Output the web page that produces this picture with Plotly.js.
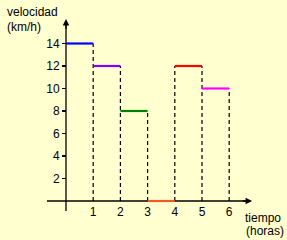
<!DOCTYPE html>
<html>
<head>
<meta charset="utf-8">
<script src="https://cdn.plot.ly/plotly-3.0.1.min.js"></script>
<style>html,body{margin:0;padding:0;background:#FFFFD0;}#chart{width:287px;height:240px;}</style>
</head>
<body>
<div id="chart"></div>
<script>
// Data
var tiempoInicio = [0, 1, 2, 3, 4, 5];
var tiempoFin    = [1, 2, 3, 4, 5, 6];
var velocidad    = [14, 12, 8, 0, 12, 10];
var colores      = ['#0000FF', '#8000FF', '#008000', '#F05A20', '#FF0000', '#FF00FF'];
var yTicks       = [2, 4, 6, 8, 10, 12, 14];
var xTicks       = [1, 2, 3, 4, 5, 6];
var yTitle       = ['velocidad', '(km/h)'];
var xTitle       = ['tiempo', '(horas)'];

var W = 287, H = 240;
var x0px = 66, xUnit = 27.2;
var y0px = 201, yUnit = 11.25;
var xRange = [-x0px / xUnit, (W - x0px) / xUnit];
var yRange = [-(H - y0px) / yUnit, y0px / yUnit];

var traces = [];
// dashed verticals at segment boundaries
tiempoFin.forEach(function (t, i) {
  var h = Math.max(velocidad[i], i + 1 < velocidad.length ? velocidad[i + 1] : 0);
  traces.push({
    x: [t, t], y: [0, h], mode: 'lines', type: 'scatter', hoverinfo: 'skip',
    line: {color: '#000000', width: 1.2, dash: '4px,3px'}, showlegend: false
  });
});
// velocity segments
velocidad.forEach(function (v, i) {
  traces.push({
    x: [tiempoInicio[i], tiempoFin[i]], y: [v, v], mode: 'lines', type: 'scatter',
    line: {color: colores[i], width: 2.2}, showlegend: false, hoverinfo: 'skip'
  });
});

var font = {family: 'Arial, "Liberation Sans", sans-serif', size: 12, color: '#000000'};
var xAxisEnd = 6.84, xAxisStart = -0.7;
var yAxisEnd = 16.18, yAxisStart = -0.9;

var layout = {
  width: W, height: H,
  margin: {l: 0, r: 0, t: 0, b: 0, pad: 0},
  paper_bgcolor: '#FFFFD0', plot_bgcolor: '#FFFFD0',
  font: font,
  showlegend: false,
  xaxis: {
    range: xRange, fixedrange: true, showgrid: false, zeroline: false, showline: false,
    anchor: 'free', position: 1 - y0px / H,
    tickmode: 'array', tickvals: xTicks, ticktext: xTicks.map(String),
    ticks: '', tickfont: font, ticklabelstandoff: 2
  },
  yaxis: {
    range: yRange, fixedrange: true, showgrid: false, zeroline: false, showline: false,
    anchor: 'free', position: x0px / W,
    tickmode: 'array', tickvals: yTicks, ticktext: yTicks.map(String),
    ticks: 'outside', ticklen: 4, tickwidth: 1.2, tickcolor: '#000000', tickfont: font
  },
  shapes: [
    {type: 'line', layer: 'below', xref: 'x', yref: 'y', x0: xAxisStart, x1: xAxisEnd - 0.1, y0: 0, y1: 0,
     line: {color: '#000000', width: 1.3}},
    {type: 'line', layer: 'below', xref: 'x', yref: 'y', x0: 0, x1: 0, y0: yAxisStart, y1: yAxisEnd - 0.3,
     line: {color: '#000000', width: 1.3}}
  ],
  annotations: [
    {xref: 'x', yref: 'y', axref: 'x', ayref: 'y', x: xAxisEnd, y: 0, ax: xAxisEnd - 0.4, ay: 0,
     text: '', showarrow: true, arrowhead: 2, arrowsize: 1, arrowwidth: 1.3, arrowcolor: '#000000'},
    {xref: 'x', yref: 'y', axref: 'x', ayref: 'y', x: 0, y: yAxisEnd, ax: 0, ay: yAxisEnd - 1,
     text: '', showarrow: true, arrowhead: 2, arrowsize: 1, arrowwidth: 1.3, arrowcolor: '#000000'},
    {xref: 'paper', yref: 'paper', x: 5 / W, y: 1 - 12 / H, xanchor: 'left', yanchor: 'middle',
     text: yTitle[0], showarrow: false, font: font},
    {xref: 'paper', yref: 'paper', x: 5 / W, y: 1 - 27 / H, xanchor: 'left', yanchor: 'middle',
     text: yTitle[1], showarrow: false, font: font},
    {xref: 'paper', yref: 'paper', x: 243 / W, y: 1 - 218 / H, xanchor: 'left', yanchor: 'middle',
     text: xTitle[0], showarrow: false, font: font},
    {xref: 'paper', yref: 'paper', x: 244 / W, y: 1 - 230.5 / H, xanchor: 'left', yanchor: 'middle',
     text: xTitle[1], showarrow: false, font: font}
  ]
};

Plotly.newPlot('chart', traces, layout, {staticPlot: true, displayModeBar: false});
</script>
</body>
</html>
